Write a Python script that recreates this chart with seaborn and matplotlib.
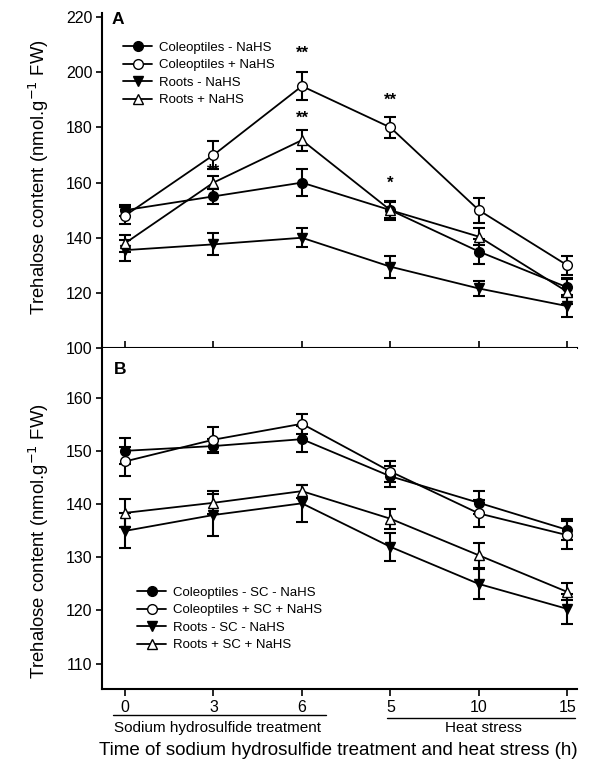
import numpy as np
import matplotlib
matplotlib.use("Agg")
import matplotlib.pyplot as plt
import seaborn as sns
from matplotlib.lines import Line2D


# Data
time_labels = ["0", "3", "6", "5", "10", "15"]

# Panel A
labels_a = ["Coleoptiles - NaHS", "Coleoptiles + NaHS", "Roots - NaHS", "Roots + NaHS"]
col_minus = [150, 155, 160, 150, 135, 122]
col_minus_err = [2, 2.7, 5, 3, 4.5, 3.5]
col_plus = [148, 170, 195, 180, 150, 130]
col_plus_err = [3, 5, 5, 3.8, 4.5, 3.5]
root_minus = [135.5, 137.6, 140, 129.5, 121.6, 115.2]
root_minus_err = [3.8, 4, 3.5, 4, 2.8, 4]
root_plus = [138, 160, 175.4, 150, 140.4, 120.4]
root_plus_err = [3, 2.5, 3.8, 3.5, 3, 4.5]

star_pos = [2, 2, 3, 3, 1]
star_val = [207, 183.4, 190, 159.8, 164.2]
star_txt = ["**", "**", "**", "*", "**"]

# Panel B
labels_b = ["Coleoptiles - SC - NaHS", "Coleoptiles + SC + NaHS",
            "Roots - SC - NaHS", "Roots + SC + NaHS"]
sc_col_minus = [150.1, 151, 152.3, 145.3, 140.3, 135.2]
sc_col_minus_err = [2.5, 1.4, 2.5, 2, 2.2, 2]
sc_col_plus = [148.1, 152.2, 155.2, 146.2, 138.3, 134.2]
sc_col_plus_err = [2.7, 2.4, 1.9, 1.9, 2.6, 2.6]
sc_root_minus = [135, 138, 140.2, 132, 125, 120.3]
sc_root_minus_err = [3.3, 3.9, 3.5, 2.7, 2.8, 2.8]
sc_root_plus = [138.4, 140.3, 142.5, 137.3, 130.4, 123.5]
sc_root_plus_err = [2.6, 2.2, 1.2, 1.9, 2.3, 1.6]

sns.set_theme(style="ticks")
plt.rcParams["font.family"] = ["Liberation Sans", "DejaVu Sans"]
plt.rcParams.update({
    "axes.linewidth": 1.5,
    "axes.edgecolor": "black",
    "axes.labelcolor": "black",
    "text.color": "black",
    "xtick.color": "black",
    "ytick.color": "black",
})

pos = np.arange(len(time_labels))
styles = [("o", "black"), ("o", "white"), ("v", "black"), ("^", "white")]

fig = plt.figure(figsize=(6.03, 7.77), dpi=100)
ax_a = fig.add_axes([0.1692, 0.5521, 0.7877, 0.4311])
ax_b = fig.add_axes([0.1692, 0.1133, 0.7877, 0.4389])


def draw_panel(ax, series, errors, labels):
    for vals, errs, lab, (mk, fc) in zip(series, errors, labels, styles):
        ax.errorbar(pos, vals, yerr=errs, fmt="none", ecolor="black",
                    elinewidth=1.5, capsize=4.5, capthick=1.5, zorder=1)
        sns.lineplot(x=pos, y=vals, ax=ax, color="black", linewidth=1.3,
                     marker=mk, markersize=7.5 if mk != "o" else 7,
                     markerfacecolor=fc, markeredgecolor="black",
                     markeredgewidth=1.0, label=lab, zorder=2)
    ax.set_xlim(-0.26, 5.11)
    ax.set_xticks(pos)
    ax.set_xticklabels(time_labels)
    ax.set_xlabel("")
    sns.despine(ax=ax)
    ax.tick_params(axis="y", direction="out", length=4, width=1.2,
                   labelsize=11.5, pad=3)


draw_panel(ax_a, [col_minus, col_plus, root_minus, root_plus],
           [col_minus_err, col_plus_err, root_minus_err, root_plus_err], labels_a)
draw_panel(ax_b, [sc_col_minus, sc_col_plus, sc_root_minus, sc_root_plus],
           [sc_col_minus_err, sc_col_plus_err, sc_root_minus_err, sc_root_plus_err],
           labels_b)

legend_kw = dict(loc="upper left", frameon=False, fontsize=9.5, handlelength=2.2,
                 handletextpad=0.5, labelspacing=0.4, borderaxespad=0, borderpad=0)

# Panel A axes
ax_a.set_ylim(100, 221.5)
ax_a.set_yticks(np.arange(100, 221, 20))
ax_a.tick_params(axis="x", direction="in", length=5, width=1.2, labelbottom=False)
for x, y, t in zip(star_pos, star_val, star_txt):
    ax_a.text(x, y, t, ha="center", va="center", fontsize=12, fontweight="bold")
ax_a.text(0.034, 0.98, "A", transform=ax_a.transAxes, ha="center", va="center",
          fontsize=12.5, fontweight="bold")
ax_a.legend(bbox_to_anchor=(0.045, 0.915), **legend_kw)

# Panel B axes
ax_b.set_ylim(105.2, 169.5)
ax_b.set_yticks(np.arange(110, 161, 10))
ax_b.tick_params(axis="x", direction="out", length=5, width=1.2, labelsize=11.5, pad=3)
ax_b.text(0.038, 0.938, "B", transform=ax_b.transAxes, ha="center", va="center",
          fontsize=12.5, fontweight="bold")
ax_b.legend(bbox_to_anchor=(0.074, 0.30), **legend_kw)

ylab = "Trehalose content (nmol.g$^{-1}$ FW)"
ax_a.set_ylabel(ylab, fontsize=13.3)
ax_a.yaxis.set_label_coords(-0.108, 0.51)
ax_b.set_ylabel(ylab, fontsize=13.3)
ax_b.yaxis.set_label_coords(-0.108, 0.434)

# Bracket lines and group labels below panel B
trans = ax_b.get_xaxis_transform()
ax_b.add_line(Line2D([-0.14, 2.27], [-0.076, -0.076], color="black", lw=1.0,
                     transform=trans, clip_on=False))
ax_b.add_line(Line2D([2.96, 5.09], [-0.085, -0.085], color="black", lw=1.0,
                     transform=trans, clip_on=False))
ax_b.text(1.05, -0.114, "Sodium hydrosulfide treatment", transform=trans,
          ha="center", va="center", fontsize=11)
ax_b.text(4.05, -0.114, "Heat stress", transform=trans,
          ha="center", va="center", fontsize=11)
ax_b.text(2.41, -0.179, "Time of sodium hydrosulfide treatment and heat stress (h)",
          transform=trans, ha="center", va="center", fontsize=13.5)

fig.savefig("out.png", dpi=100)
